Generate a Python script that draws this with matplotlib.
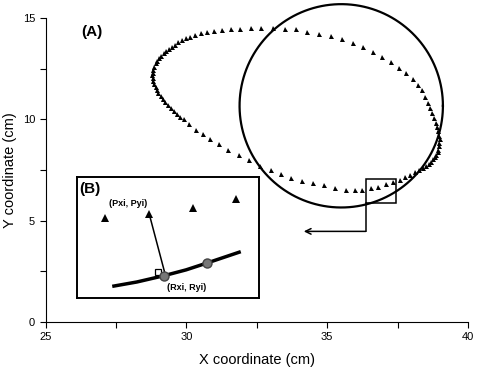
import matplotlib.pyplot as plt
import numpy as np
from matplotlib.patches import Rectangle

plt.rcParams['font.family'] = ['Liberation Sans', 'DejaVu Sans']

# tracked positions (cm)
track_x = [33.88, 33.49, 33.09, 32.66, 32.28, 31.92, 31.59, 31.28, 31.00, 30.74,
           30.52, 30.32, 30.14, 29.99, 29.85, 29.72, 29.60, 29.49, 29.38, 29.28,
           29.19, 29.11, 29.03, 28.96, 28.91, 28.86, 28.83, 28.80, 28.79, 28.80,
           28.83, 28.86, 28.91, 28.96, 29.01, 29.09, 29.16, 29.25, 29.35, 29.44,
           29.55, 29.67, 29.79, 29.92, 30.10, 30.35, 30.58, 30.85, 31.15, 31.48,
           31.86, 32.23, 32.61, 32.99, 33.36, 33.73, 34.09, 34.49, 34.89, 35.29,
           35.67, 35.98, 36.25, 36.56, 36.82, 37.08, 37.33, 37.59, 37.78, 37.95,
           38.12, 38.27, 38.40, 38.52, 38.61, 38.69, 38.77, 38.83, 38.87, 38.92,
           38.94, 38.97, 38.98, 38.99, 38.98, 38.94, 38.91, 38.86, 38.80, 38.73,
           38.66, 38.57, 38.47, 38.35, 38.21, 38.04, 37.80, 37.54, 37.26, 36.96,
           36.64, 36.29, 35.92, 35.54, 35.12, 34.72, 34.30]
track_y = [14.46, 14.46, 14.50, 14.50, 14.49, 14.47, 14.46, 14.42, 14.37, 14.32,
           14.26, 14.17, 14.09, 14.00, 13.90, 13.80, 13.68, 13.58, 13.48, 13.37,
           13.27, 13.15, 13.03, 12.89, 12.76, 12.61, 12.46, 12.31, 12.18, 12.03,
           11.90, 11.75, 11.60, 11.45, 11.30, 11.15, 11.00, 10.86, 10.71, 10.56,
           10.41, 10.28, 10.13, 10.00, 9.75, 9.47, 9.26, 9.01, 8.78, 8.51,
           8.23, 7.97, 7.72, 7.51, 7.31, 7.11, 6.98, 6.86, 6.75, 6.63,
           6.53, 6.50, 6.53, 6.60, 6.65, 6.82, 6.92, 7.03, 7.14, 7.26,
           7.38, 7.49, 7.61, 7.72, 7.82, 7.92, 8.02, 8.13, 8.25, 8.38,
           8.51, 8.68, 8.85, 9.01, 9.17, 9.42, 9.62, 9.84, 10.06, 10.30,
           10.56, 10.83, 11.12, 11.44, 11.72, 12.01, 12.29, 12.56, 12.84, 13.09,
           13.33, 13.56, 13.78, 13.96, 14.13, 14.24, 14.32]

# reference path (fitted circle)
ref_center = (35.50, 10.67)
ref_radius = (3.61, 5.02)

# zoom box and pointer
zoom_box = (36.37, 5.88, 1.09, 1.18)
pointer_x = [36.37, 36.37, 34.17]
pointer_y = [5.88, 4.47, 4.47]

# inset schematic (relative units)
inset_px = [0.154, 0.398, 0.640, 0.872]
inset_py = [0.660, 0.692, 0.745, 0.814]
inset_curve_x = [0.195, 0.330, 0.479, 0.600, 0.716, 0.900]
inset_curve_y = [0.096, 0.132, 0.184, 0.232, 0.289, 0.382]
inset_rx = [0.481, 0.716]
inset_ry = [0.180, 0.289]

fig = plt.figure(figsize=(4.79, 3.70), dpi=100)
ax = fig.add_axes([0.095, 0.130, 0.882, 0.821])

ax.plot(track_x, track_y, '^', color='k', ms=3.6, mew=0, ls='none')

t = np.linspace(0, 2 * np.pi, 300)
ax.plot(ref_center[0] + ref_radius[0] * np.cos(t),
        ref_center[1] + ref_radius[1] * np.sin(t), color='k', lw=1.6,
        clip_on=False)

ax.add_patch(Rectangle(zoom_box[:2], zoom_box[2], zoom_box[3], fill=False,
                       ec='k', lw=1.1))
ax.plot(pointer_x[:2], pointer_y[:2], color='k', lw=1.1)
ax.annotate('', xy=(pointer_x[2], pointer_y[2]), xytext=(pointer_x[1], pointer_y[1]),
            arrowprops=dict(arrowstyle='->', color='k', lw=1.1,
                            shrinkA=0, shrinkB=0))

ax.text(26.65, 14.3, '(A)', fontsize=11, fontweight='bold', ha='center', va='center')

ax.set_xlim(25, 40)
ax.set_ylim(0, 15)
ax.set_xticks([25, 30, 35, 40])
ax.set_yticks([0, 5, 10, 15])
ax.set_xticks([27.5, 32.5, 37.5], minor=True)
ax.set_yticks([2.5, 7.5, 12.5], minor=True)
ax.tick_params(which='both', direction='out', length=4, width=0.8, labelsize=8)
for s in ['top', 'right']:
    ax.spines[s].set_visible(False)
ax.set_xlabel('X coordinate (cm)', fontsize=10.5, labelpad=8)
ax.set_ylabel('Y coordinate (cm)', fontsize=10.5, labelpad=4)

# inset (B)
ins = fig.add_axes([0.1601, 0.1946, 0.3806, 0.3278])
ins.set_xlim(0, 1)
ins.set_ylim(0, 1)
ins.set_xticks([])
ins.set_yticks([])
for s in ins.spines.values():
    s.set_linewidth(1.4)
ins.plot(inset_curve_x, inset_curve_y, color='k', lw=2.5, solid_capstyle='butt')
ins.plot([inset_rx[0], inset_px[1]], [inset_ry[0] + 0.04, inset_py[1]], color='k', lw=1.1)
ins.add_patch(Rectangle((0.430, 0.190), 0.035, 0.05, fc='white', ec='k', lw=0.9))
ins.plot(inset_px, inset_py, '^', color='k', ms=6, mew=0, ls='none')
ins.plot(inset_rx, inset_ry, 'o', color='#777777', mec='#444444', ms=6.5, ls='none')
ins.text(0.075, 0.90, '(B)', fontsize=11, fontweight='bold', ha='center', va='center')
ins.text(0.282, 0.776, '(Pxi, Pyi)', fontsize=6.5, fontweight='bold', ha='center', va='center')
ins.text(0.605, 0.088, '(Rxi, Ryi)', fontsize=6.5, fontweight='bold', ha='center', va='center')

fig.savefig('out.png', dpi=100)
